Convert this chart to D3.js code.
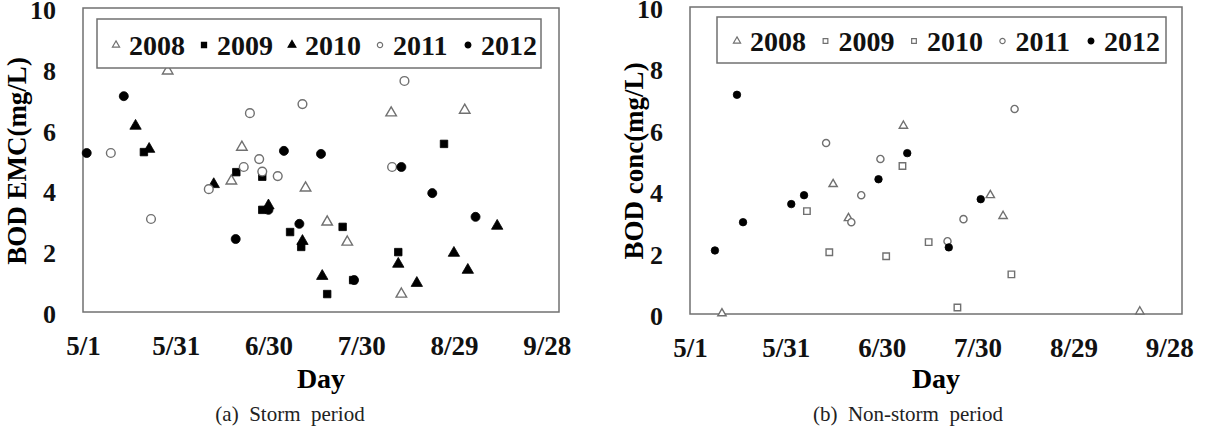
<!DOCTYPE html>
<meta charset="utf-8">
<script src="https://cdnjs.cloudflare.com/ajax/libs/d3/7.3.0/d3.min.js"></script>
<style>
  body { margin: 0; background: #fff; }
  text { font-family: "Liberation Serif", "Times New Roman", serif; }
</style>
<div id="my_dataviz"></div>
<script>

    // days after 5/1, BOD (mg/L)
    const years = ["2008", "2009", "2010", "2011", "2012"]
    const dayTicks = [0, 30, 60, 90, 120, 150]
    const dayLabels = ["5/1", "5/31", "6/30", "7/30", "8/29", "9/28"]
    const bodTicks = [0, 2, 4, 6, 8, 10]

    // (a) storm period, EMC
    const storm2008 = [[27.4, 7.93], [51.4, 5.42], [48, 4.31], [72, 4.08], [79, 2.96], [85.5, 2.3], [99.7, 6.55], [123.5, 6.64], [103, 0.59]]
    const storm2009 = [[19.7, 5.26], [49.6, 4.6], [58, 4.45], [58, 3.36], [67, 2.63], [70.6, 2.14], [84, 2.8], [87.4, 1.05], [79, 0.59], [102, 1.97], [116.8, 5.53]]
    const storm2010 = [[17, 6.12], [21.4, 5.36], [42.3, 4.2], [60, 3.5], [71, 2.33], [77.4, 1.18], [102, 1.58], [108, 0.95], [120, 1.94], [124.5, 1.38], [134, 2.83]]
    const storm2011 = [[9, 5.23], [22, 3.06], [40.7, 4.04], [52, 4.77], [54, 6.54], [57, 5.03], [58, 4.62], [63, 4.47], [71, 6.84], [100, 4.77], [104, 7.6]]
    const storm2012 = [[1.2, 5.23], [13.2, 7.1], [49.4, 2.4], [60, 3.36], [65, 5.3], [70, 2.9], [77, 5.2], [87.7, 1.05], [103, 4.77], [113, 3.91], [127, 3.13]]

    // (b) non-storm period, concentration
    const dry2008 = [[10, 0.02], [44.8, 4.23], [49.6, 3.12], [66.8, 6.13], [94, 3.87], [98, 3.19], [140.8, 0.08]]
    const dry2009 = [[36.6, 3.35], [43.6, 2.01], [61.4, 1.88]]
    const dry2010 = [[66.5, 4.82], [74.7, 2.34], [83.7, 0.21], [100.6, 1.29]]
    const dry2011 = [[42.6, 5.57], [50.5, 2.99], [53.6, 3.87], [59.6, 5.05], [80.6, 2.37], [85.6, 3.09], [101.6, 6.68]]
    const dry2012 = [[7.8, 2.07], [14.7, 7.14], [16.6, 2.99], [31.7, 3.58], [35.7, 3.87], [59, 4.39], [68, 5.24], [81, 2.17], [91, 3.74]]

    const W = 1209, H = 426
    const svg = d3.select("#my_dataviz").append("svg")
        .attr("width", W).attr("height", H)

    const grey = "#707070"

    const panels = [
        {
            left: 83, right: 559, top: 8, bottom: 312,
            title: "BOD EMC(mg/L)", titleX: 17, caption: "(a)  Storm  period", capX: 290,
            series: [storm2008, storm2009, storm2010, storm2011, storm2012],
            shapes: [d3.symbolTriangle, d3.symbolSquare, d3.symbolTriangle, d3.symbolCircle, d3.symbolCircle],
            filled: [false, true, true, false, true],
            sizes: [48, 56, 56, 60, 64],
            legend: { x: 97, y: 19, w: 444, h: 49, first: 116, step: 88, base: 55 }
        },
        {
            left: 690, right: 1182, top: 7, bottom: 314,
            title: "BOD conc(mg/L)", titleX: 634, caption: "(b)  Non-storm  period", capX: 908,
            series: [dry2008, dry2009, dry2010, dry2011, dry2012],
            shapes: [d3.symbolTriangle, d3.symbolSquare, d3.symbolSquare, d3.symbolCircle, d3.symbolCircle],
            filled: [false, false, false, false, true],
            sizes: [30, 42, 42, 40, 44],
            legend: { x: 717, y: 17, w: 449, h: 46, first: 737, step: 88.5, base: 51 }
        }
    ]

    panels.forEach(function (p) {
        const x = d3.scaleLinear().domain([0, 154]).range([p.left, p.right])
        const y = d3.scaleLinear().domain([0, 10]).range([p.bottom, p.top])

        // plot frame
        svg.append("rect")
            .attr("x", p.left).attr("y", p.top)
            .attr("width", p.right - p.left).attr("height", p.bottom - p.top)
            .attr("fill", "none").attr("stroke", grey).attr("stroke-width", 1.5)

        // x axis labels
        const gx = svg.append("g")
            .attr("transform", "translate(0," + p.bottom + ")")
            .call(d3.axisBottom(x).tickValues(dayTicks)
                .tickFormat(function (d, i) { return dayLabels[i] }).tickSize(0).tickPadding(24))
        gx.select(".domain").remove()
        gx.selectAll("text").attr("font-size", 27).attr("font-weight", "bold")
            .attr("font-family", "Liberation Serif, serif").attr("fill", "#111")

        // y axis labels
        const gy = svg.append("g")
            .attr("transform", "translate(" + p.left + ",0)")
            .call(d3.axisLeft(y).tickValues(bodTicks).tickSize(0).tickPadding(27))
        gy.select(".domain").remove()
        gy.selectAll("text").attr("font-size", 26).attr("font-weight", "bold")
            .attr("font-family", "Liberation Serif, serif").attr("fill", "#111")
            .attr("dy", "0.4em")

        // axis titles
        svg.append("text")
            .attr("x", (p.left + p.right) / 2).attr("y", 388)
            .attr("text-anchor", "middle").attr("font-size", 28).attr("font-weight", "bold")
            .text("Day")
        svg.append("text")
            .attr("transform", "translate(" + (p.titleX + 9) + ",161) rotate(-90)")
            .attr("text-anchor", "middle").attr("font-size", 27).attr("font-weight", "bold")
            .text(p.title)

        // caption
        svg.append("text")
            .attr("x", p.capX).attr("y", 421)
            .attr("text-anchor", "middle").attr("font-size", 21).attr("fill", "#222")
            .attr("xml:space", "preserve").style("white-space", "pre")
            .text(p.caption)

        // points
        p.series.forEach(function (data, i) {
            svg.append("g").selectAll("path")
                .data(data)
                .enter().append("path")
                .attr("transform", function (d) { return "translate(" + x(d[0]) + "," + y(d[1]) + ")" })
                .attr("d", d3.symbol().type(p.shapes[i]).size(p.sizes[i]))
                .attr("fill", p.filled[i] ? "#000" : "#fff")
                .attr("stroke", p.filled[i] ? "#000" : grey)
                .attr("stroke-width", p.filled[i] ? 0.8 : 1.4)
        })

        // legend
        const L = p.legend
        svg.append("rect")
            .attr("x", L.x).attr("y", L.y).attr("width", L.w).attr("height", L.h)
            .attr("fill", "#fff").attr("stroke", grey).attr("stroke-width", 1.5)
        years.forEach(function (yr, i) {
            const mx = L.first + i * L.step
            svg.append("path")
                .attr("transform", "translate(" + mx + "," + (L.base - 10) + ")")
                .attr("d", d3.symbol().type(p.shapes[i]).size(p.filled[i] ? 26 : 22))
                .attr("fill", p.filled[i] ? "#000" : "#fff")
                .attr("stroke", p.filled[i] ? "#000" : grey)
                .attr("stroke-width", 1.2)
            svg.append("text")
                .attr("x", mx + 13).attr("y", L.base)
                .attr("font-size", 28).attr("font-weight", "bold").attr("fill", "#111")
                .text(yr)
        })
    })

</script>
